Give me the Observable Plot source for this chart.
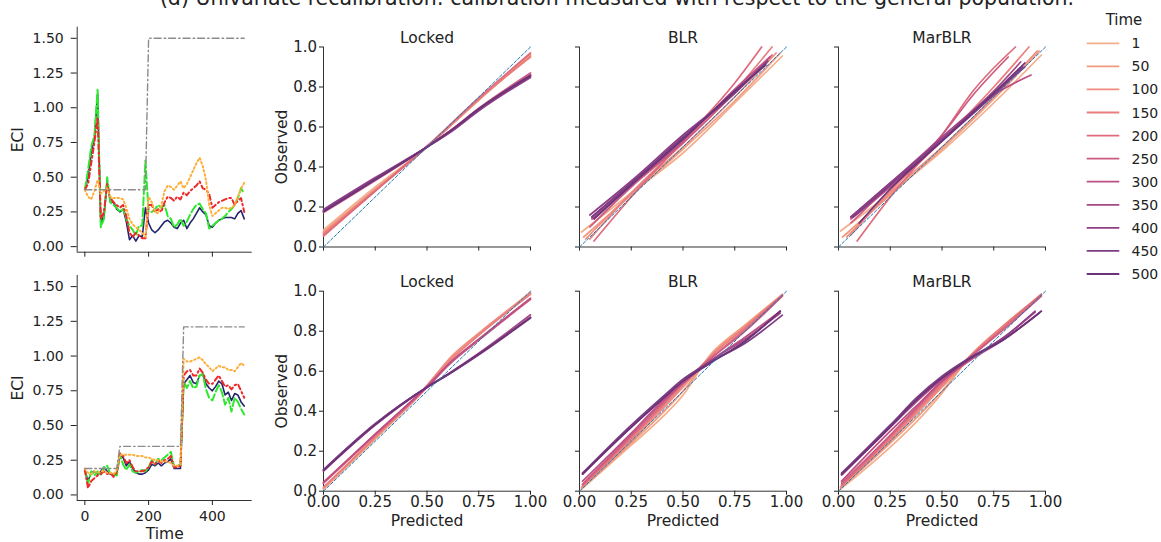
<!DOCTYPE html>
<html><head><meta charset="utf-8">
<script src="https://cdn.jsdelivr.net/npm/d3@7"></script>
<script src="https://cdn.jsdelivr.net/npm/@observablehq/plot@0.6"></script>
<style>
html,body{margin:0;padding:0;background:#fff;}
#root{position:relative;width:1161px;height:542px;overflow:hidden;font-family:"DejaVu Sans",sans-serif;color:#222;}
.p{position:absolute;}
.p svg{max-width:none;}
</style></head><body><div id="root"></div>
<script>
// ---------- data: ECI time series ----------
const times = [0,10,20,30,40,50,60,70,80,90,100,110,120,130,140,150,160,170,180,190,200,210,220,230,240,250,260,270,280,290,300,310,320,330,340,350,360,370,380,390,400,410,420,430,440,450,460,470,480,490,500];

const topNavy   = [0.41,0.50,0.68,0.78,1.10,0.17,0.22,0.47,0.32,0.32,0.27,0.25,0.27,0.18,0.05,0.08,0.04,0.08,0.07,0.28,0.17,0.12,0.10,0.12,0.15,0.18,0.19,0.17,0.14,0.13,0.17,0.19,0.13,0.17,0.20,0.24,0.28,0.25,0.23,0.15,0.14,0.17,0.19,0.20,0.21,0.21,0.21,0.20,0.24,0.26,0.20];
const topGreen  = [0.41,0.55,0.72,0.80,1.13,0.14,0.20,0.50,0.32,0.30,0.28,0.25,0.27,0.20,0.15,0.12,0.08,0.15,0.15,0.62,0.25,0.25,0.27,0.30,0.28,0.30,0.22,0.20,0.14,0.16,0.20,0.15,0.18,0.23,0.27,0.30,0.31,0.27,0.24,0.13,0.15,0.17,0.19,0.20,0.22,0.25,0.27,0.30,0.35,0.42,0.38];
const topRed    = [0.41,0.45,0.60,0.75,0.93,0.20,0.25,0.45,0.35,0.32,0.30,0.28,0.30,0.22,0.10,0.07,0.10,0.08,0.06,0.06,0.30,0.30,0.25,0.27,0.25,0.32,0.36,0.35,0.33,0.36,0.34,0.39,0.37,0.40,0.42,0.44,0.47,0.42,0.41,0.38,0.28,0.30,0.32,0.33,0.34,0.35,0.35,0.30,0.33,0.35,0.25];
const topOrange = [0.41,0.36,0.34,0.40,0.48,0.38,0.40,0.42,0.36,0.35,0.35,0.35,0.34,0.28,0.20,0.16,0.14,0.12,0.10,0.07,0.36,0.32,0.25,0.24,0.30,0.40,0.44,0.43,0.41,0.44,0.47,0.42,0.45,0.50,0.55,0.60,0.64,0.58,0.48,0.30,0.22,0.24,0.26,0.28,0.28,0.27,0.28,0.30,0.36,0.42,0.46];
const topGrey   = [0.41,0.41,0.41,0.41,0.41,0.41,0.41,0.41,0.41,0.41,0.41,0.41,0.41,0.41,0.41,0.41,0.41,0.41,0.41,0.41,1.5,1.5,1.5,1.5,1.5,1.5,1.5,1.5,1.5,1.5,1.5,1.5,1.5,1.5,1.5,1.5,1.5,1.5,1.5,1.5,1.5,1.5,1.5,1.5,1.5,1.5,1.5,1.5,1.5,1.5,1.5];

const botNavy   = [0.18,0.10,0.16,0.17,0.15,0.17,0.20,0.17,0.15,0.14,0.15,0.28,0.27,0.21,0.24,0.19,0.16,0.15,0.15,0.16,0.18,0.22,0.21,0.23,0.21,0.23,0.24,0.26,0.19,0.19,0.19,0.80,0.83,0.86,0.81,0.80,0.86,0.87,0.80,0.77,0.75,0.78,0.82,0.80,0.72,0.74,0.68,0.73,0.72,0.67,0.64];
const botRed    = [0.18,0.05,0.10,0.12,0.14,0.15,0.17,0.15,0.16,0.13,0.16,0.30,0.28,0.23,0.25,0.20,0.17,0.17,0.17,0.18,0.20,0.24,0.22,0.25,0.23,0.25,0.26,0.28,0.20,0.20,0.21,0.86,0.89,0.90,0.86,0.86,0.91,0.88,0.83,0.80,0.80,0.83,0.86,0.82,0.78,0.79,0.76,0.79,0.80,0.75,0.70];
const botGreen  = [0.18,0.08,0.17,0.14,0.17,0.14,0.20,0.21,0.15,0.15,0.14,0.29,0.22,0.18,0.22,0.17,0.16,0.17,0.18,0.17,0.20,0.25,0.22,0.26,0.25,0.27,0.29,0.31,0.20,0.21,0.22,0.82,0.77,0.82,0.77,0.78,0.86,0.87,0.76,0.70,0.68,0.74,0.79,0.74,0.65,0.70,0.60,0.70,0.67,0.62,0.58];
const botOrange = [0.19,0.16,0.15,0.17,0.16,0.17,0.17,0.16,0.16,0.15,0.18,0.29,0.29,0.29,0.29,0.29,0.28,0.28,0.28,0.27,0.27,0.26,0.25,0.25,0.24,0.24,0.24,0.23,0.21,0.21,0.22,0.98,0.96,0.96,0.97,0.98,0.99,0.97,0.94,0.92,0.89,0.91,0.93,0.92,0.92,0.90,0.90,0.89,0.92,0.95,0.93];
const botGrey   = [0.19,0.19,0.19,0.19,0.19,0.19,0.19,0.19,0.19,0.19,0.19,0.35,0.35,0.35,0.35,0.35,0.35,0.35,0.35,0.35,0.35,0.35,0.35,0.35,0.35,0.35,0.35,0.35,0.35,0.35,0.35,1.21,1.21,1.21,1.21,1.21,1.21,1.21,1.21,1.21,1.21,1.21,1.21,1.21,1.21,1.21,1.21,1.21,1.21,1.21,1.21];

const eciTicks = [0,0.25,0.5,0.75,1.0,1.25,1.5];
const timeTicks = [0,200,400];

// ---------- data: calibration curves (one per legend time) ----------
const legendTimes = [1,50,100,150,200,250,300,350,400,450,500];
const timeColors = ["#f4ae8c","#f29a7c","#ef8c7f","#e97f7e","#df6a7b","#cc5a82","#bf4e82","#a54885","#8f3e86","#7c3d83","#6b3379"];

const calLockedTop = [
 [[0,0.085],[0.25,0.30],[0.5,0.50],[0.75,0.735],[1,0.96]],
 [[0,0.075],[0.25,0.29],[0.5,0.50],[0.75,0.74],[1,0.965]],
 [[0,0.07],[0.25,0.285],[0.5,0.50],[0.75,0.735],[1,0.955]],
 [[0,0.065],[0.25,0.28],[0.5,0.50],[0.75,0.74],[1,0.95]],
 [[0,0.055],[0.25,0.28],[0.5,0.505],[0.75,0.745],[1,0.97]],
 [[0,0.172],[0.25,0.332],[0.5,0.50],[0.62,0.588],[0.75,0.694],[1,0.87]],
 [[0,0.178],[0.25,0.338],[0.5,0.50],[0.62,0.585],[0.75,0.69],[1,0.862]],
 [[0,0.183],[0.25,0.342],[0.5,0.50],[0.62,0.581],[0.75,0.684],[1,0.852]],
 [[0,0.188],[0.25,0.347],[0.5,0.50],[0.62,0.579],[0.75,0.681],[1,0.848]],
 [[0,0.18],[0.25,0.34],[0.5,0.50],[0.62,0.585],[0.75,0.69],[1,0.858]],
 [[0,0.176],[0.25,0.336],[0.5,0.50],[0.62,0.586],[0.75,0.69],[1,0.856]]
];
const calBlrTop = [
 [[0.01,0.075],[0.25,0.27],[0.5,0.47],[0.75,0.72],[0.98,0.955]],
 [[0.02,0.05],[0.25,0.26],[0.5,0.49],[0.75,0.73],[0.97,0.97]],
 [[0.03,0.04],[0.25,0.27],[0.5,0.50],[0.75,0.75],[0.95,0.97]],
 [[0.05,0.04],[0.25,0.27],[0.5,0.52],[0.75,0.78],[0.93,1.0]],
 [[0.07,0.03],[0.25,0.25],[0.5,0.53],[0.75,0.82],[0.88,1.0]],
 [[0.05,0.10],[0.25,0.30],[0.5,0.52],[0.75,0.77],[0.93,0.96]],
 [[0.06,0.14],[0.25,0.31],[0.5,0.53],[0.75,0.79],[0.92,0.95]],
 [[0.06,0.15],[0.25,0.32],[0.5,0.54],[0.75,0.78],[0.90,0.92]],
 [[0.05,0.16],[0.25,0.33],[0.5,0.56],[0.75,0.77],[0.90,0.92]],
 [[0.06,0.15],[0.25,0.32],[0.5,0.55],[0.75,0.77],[0.91,0.93]],
 [[0.07,0.14],[0.25,0.31],[0.5,0.54],[0.75,0.78],[0.90,0.91]]
];
const calMarTop = [
 [[0.01,0.08],[0.25,0.27],[0.5,0.48],[0.75,0.72],[0.98,0.96]],
 [[0.02,0.05],[0.25,0.26],[0.5,0.49],[0.75,0.74],[0.97,0.98]],
 [[0.04,0.05],[0.25,0.27],[0.5,0.50],[0.75,0.75],[0.96,0.98]],
 [[0.06,0.06],[0.25,0.28],[0.5,0.53],[0.75,0.80],[0.92,1.0]],
 [[0.09,0.03],[0.25,0.25],[0.5,0.56],[0.65,0.78],[0.855,1.0]],
 [[0.06,0.12],[0.25,0.31],[0.5,0.56],[0.65,0.76],[0.82,0.95]],
 [[0.06,0.14],[0.25,0.30],[0.5,0.53],[0.75,0.76],[0.93,0.86]],
 [[0.06,0.15],[0.25,0.32],[0.5,0.55],[0.75,0.78],[0.88,0.925]],
 [[0.06,0.15],[0.25,0.32],[0.5,0.54],[0.75,0.77],[0.90,0.90]],
 [[0.07,0.15],[0.25,0.31],[0.5,0.53],[0.75,0.76],[0.89,0.90]],
 [[0.10,0.12],[0.25,0.29],[0.5,0.53],[0.75,0.77],[0.90,0.92]]
];
const calLockedBot = [
 [[0,0.01],[0.25,0.26],[0.5,0.52],[0.62,0.665],[0.75,0.78],[1,0.99]],
 [[0,0.012],[0.25,0.265],[0.5,0.525],[0.62,0.67],[0.75,0.785],[1,0.995]],
 [[0,0.015],[0.25,0.27],[0.5,0.53],[0.62,0.675],[0.75,0.79],[1,0.99]],
 [[0,0.02],[0.25,0.27],[0.5,0.52],[0.62,0.66],[0.75,0.78],[1,0.985]],
 [[0,0.04],[0.25,0.28],[0.5,0.52],[0.62,0.65],[0.75,0.76],[1,0.96]],
 [[0,0.04],[0.25,0.285],[0.5,0.52],[0.62,0.645],[0.75,0.755],[1,0.96]],
 [[0,0.045],[0.25,0.285],[0.5,0.525],[0.62,0.65],[0.75,0.76],[1,0.965]],
 [[0,0.10],[0.25,0.33],[0.5,0.52],[0.6,0.585],[0.75,0.69],[1,0.882]],
 [[0,0.106],[0.25,0.336],[0.5,0.52],[0.6,0.582],[0.75,0.684],[1,0.87]],
 [[0,0.108],[0.25,0.338],[0.5,0.52],[0.6,0.581],[0.75,0.682],[1,0.866]],
 [[0,0.103],[0.25,0.333],[0.5,0.52],[0.6,0.584],[0.75,0.686],[1,0.868]]
];
const calBlrBot = [
 [[0.01,0.01],[0.25,0.23],[0.4,0.37],[0.5,0.48],[0.63,0.68],[0.8,0.83],[0.98,0.985]],
 [[0.01,0.015],[0.25,0.24],[0.4,0.39],[0.5,0.50],[0.63,0.675],[0.8,0.83],[0.98,0.98]],
 [[0.01,0.02],[0.25,0.25],[0.4,0.41],[0.5,0.52],[0.63,0.67],[0.8,0.82],[0.98,0.98]],
 [[0.015,0.03],[0.25,0.26],[0.4,0.42],[0.5,0.53],[0.63,0.67],[0.8,0.82],[0.98,0.98]],
 [[0.015,0.03],[0.25,0.27],[0.4,0.43],[0.5,0.54],[0.63,0.66],[0.8,0.81],[0.98,0.98]],
 [[0.015,0.035],[0.25,0.28],[0.4,0.44],[0.5,0.54],[0.63,0.66],[0.8,0.80],[0.98,0.975]],
 [[0.015,0.05],[0.25,0.29],[0.4,0.45],[0.5,0.54],[0.63,0.65],[0.8,0.77],[0.97,0.90]],
 [[0.015,0.085],[0.25,0.32],[0.4,0.46],[0.5,0.55],[0.63,0.65],[0.8,0.76],[0.97,0.89]],
 [[0.015,0.09],[0.25,0.32],[0.4,0.46],[0.5,0.55],[0.63,0.64],[0.8,0.75],[0.97,0.90]],
 [[0.015,0.09],[0.25,0.33],[0.4,0.47],[0.5,0.56],[0.63,0.645],[0.8,0.74],[0.98,0.88]],
 [[0.015,0.085],[0.25,0.32],[0.4,0.46],[0.5,0.55],[0.63,0.64],[0.8,0.75],[0.97,0.90]]
];
const calMarBot = [
 [[0.01,0.01],[0.25,0.22],[0.38,0.35],[0.5,0.49],[0.63,0.67],[0.8,0.83],[0.98,0.985]],
 [[0.01,0.015],[0.25,0.24],[0.38,0.37],[0.5,0.50],[0.63,0.665],[0.8,0.83],[0.98,0.98]],
 [[0.01,0.02],[0.25,0.25],[0.38,0.39],[0.5,0.52],[0.63,0.665],[0.8,0.82],[0.98,0.98]],
 [[0.015,0.03],[0.25,0.26],[0.38,0.40],[0.5,0.53],[0.63,0.67],[0.8,0.83],[0.98,0.98]],
 [[0.015,0.03],[0.25,0.27],[0.38,0.41],[0.5,0.54],[0.63,0.665],[0.8,0.82],[0.98,0.985]],
 [[0.015,0.04],[0.25,0.28],[0.38,0.42],[0.5,0.55],[0.63,0.665],[0.8,0.81],[0.98,0.975]],
 [[0.015,0.05],[0.25,0.30],[0.38,0.43],[0.5,0.55],[0.63,0.65],[0.8,0.76],[0.98,0.90]],
 [[0.015,0.08],[0.25,0.32],[0.38,0.45],[0.5,0.56],[0.63,0.66],[0.8,0.77],[0.95,0.895]],
 [[0.015,0.085],[0.25,0.33],[0.38,0.46],[0.5,0.57],[0.63,0.66],[0.8,0.77],[0.95,0.90]],
 [[0.015,0.09],[0.25,0.33],[0.38,0.47],[0.5,0.575],[0.63,0.665],[0.8,0.76],[0.97,0.89]],
 [[0.015,0.085],[0.25,0.32],[0.38,0.46],[0.5,0.565],[0.63,0.66],[0.8,0.76],[0.98,0.90]]
];
const calXTicks = [0,0.25,0.5,0.75,1.0];
const calYTicks = [0,0.2,0.4,0.6,0.8,1.0];

// ---------- layout helpers ----------
const root = document.getElementById("root");
function place(el, left, top) {
  const d = document.createElement("div");
  d.className = "p"; d.style.left = left + "px"; d.style.top = top + "px";
  d.appendChild(el); root.appendChild(d);
}
const AX = "#333";

const seriesStyle = [
  {stroke:"#23236e", width:1.6, dash:null},
  {stroke:"#2ee82e", width:2.0, dash:"8,3"},
  {stroke:"#f0282a", width:2.0, dash:"5,3,1.6,3"},
  {stroke:"#ffae3a", width:2.0, dash:"1.6,2.6"},
  {stroke:"#8c8c8c", width:1.4, dash:"7,3,1.5,3"}
];

function eciPanel(series, top, H, mt, showXLabels) {
  const XD = [-24, 525], YD = [-0.04, 1.58];
  const marks = [
    Plot.ruleX([XD[0]], {stroke: AX, strokeWidth: 1}),
    Plot.ruleY([YD[0]], {stroke: AX, strokeWidth: 1}),
    Plot.axisY({ticks: eciTicks, tickFormat: d3.format(".2f"), tickSize: 6, tickPadding: 7.5, label: null, fontSize: 14}),
    Plot.axisX({ticks: timeTicks, tickFormat: showXLabels ? (d => String(d)) : (() => ""), tickSize: 5, tickPadding: 5.5, label: null, fontSize: 14}),
    Plot.text(["ECI"], {frameAnchor: "left", dx: -58.7, rotate: -90, lineAnchor: "middle", textAnchor: "middle", fontSize: 15.5, fill: "#222"})
  ];
  seriesStyle.forEach((s, k) => {
    const vals = series[k];
    marks.push(Plot.line(times.map((t, i) => ({t, v: vals[i]})), {
      x: "t", y: "v", stroke: s.stroke, strokeWidth: s.width,
      strokeDasharray: s.dash || undefined
    }));
  });
  if (showXLabels) marks.push(Plot.text(["Time"], {frameAnchor: "bottom", dy: 33.5, lineAnchor: "middle", fontSize: 15.5, fill: "#222"}));
  const svg = Plot.plot({
    width: 262, height: H,
    marginLeft: 76.7, marginRight: 10.3, marginTop: mt, marginBottom: H - mt - 225,
    x: {domain: XD, axis: null}, y: {domain: YD, axis: null},
    style: {fontFamily: "DejaVu Sans, sans-serif", color: "#222", background: "transparent", overflow: "visible"},
    marks
  });
  place(svg, 0, top);
}

eciPanel([topNavy, topGreen, topRed, topOrange, topGrey], 0, 262, 26.7, false);
eciPanel([botNavy, botGreen, botRed, botOrange, botGrey], 262, 280, 13, true);

function calPanel(curves, title, frameLeft, row, showY) {
  const rows = curves.flatMap((pts, i) => pts.map(([px, py]) => ({time: legendTimes[i], px, py})));
  const H = row === 0 ? 262 : 280;
  const mt = row === 0 ? 46.5 : 28.7;
  const ML = 62, MR = 22;
  const marks = [
    Plot.ruleX([0], {stroke: AX, strokeWidth: 1}),
    Plot.ruleY([0], {stroke: AX, strokeWidth: 1}),
    Plot.axisY({ticks: calYTicks, tickFormat: showY ? d3.format(".1f") : (() => ""), tickSize: 4, tickPadding: 2.5, label: null, fontSize: 15}),
    Plot.axisX({ticks: calXTicks, tickFormat: row === 1 ? d3.format(".2f") : (() => ""), tickSize: 4, tickPadding: 1.5, label: null, fontSize: 15}),
    Plot.line(rows, {x: "px", y: "py", z: "time", stroke: "time", strokeWidth: 1.7, curve: "monotone-x"}),
    Plot.line([[0,0],[1,1]], {x: d => d[0], y: d => d[1], stroke: "#1f77b4", strokeWidth: 1, strokeDasharray: "3,2"}),
    Plot.text([title], {frameAnchor: "top", dy: -3.8, lineAnchor: "bottom", fontSize: 15.5, fill: "#222"})
  ];
  if (showY) marks.push(Plot.text(["Observed"], {frameAnchor: "left", dx: -41.7, rotate: -90, lineAnchor: "middle", textAnchor: "middle", fontSize: 15.5, fill: "#222"}));
  if (row === 1) marks.push(Plot.text(["Predicted"], {frameAnchor: "bottom", dy: 30, lineAnchor: "middle", fontSize: 15.5, fill: "#222"}));
  const svg = Plot.plot({
    width: ML + 207 + MR, height: H,
    marginLeft: ML, marginRight: MR, marginTop: mt, marginBottom: H - mt - 200,
    x: {domain: [0, 1], axis: null}, y: {domain: [0, 1], axis: null},
    color: {type: "ordinal", domain: legendTimes, range: timeColors},
    style: {fontFamily: "DejaVu Sans, sans-serif", color: "#222", background: "transparent", overflow: "visible"},
    marks
  });
  place(svg, frameLeft - ML, row === 0 ? 0 : 262);
}

calPanel(calLockedTop, "Locked", 322.7, 0, true);
calPanel(calBlrTop, "BLR", 579.3, 0, false);
calPanel(calMarTop, "MarBLR", 837.7, 0, false);
calPanel(calLockedBot, "Locked", 322.7, 1, true);
calPanel(calBlrBot, "BLR", 579.3, 1, false);
calPanel(calMarBot, "MarBLR", 837.7, 1, false);

// ---------- title & legend overlay ----------
const ns = "http://www.w3.org/2000/svg";
const ov = document.createElementNS(ns, "svg");
ov.setAttribute("width", 1161); ov.setAttribute("height", 542);
ov.style.position = "absolute"; ov.style.left = "0"; ov.style.top = "0"; ov.style.pointerEvents = "none";
ov.style.fontFamily = "DejaVu Sans, sans-serif";
function txt(x, y, s, size, anchor, baseline) {
  const t = document.createElementNS(ns, "text");
  t.setAttribute("x", x); t.setAttribute("y", y); t.setAttribute("font-size", size);
  t.setAttribute("text-anchor", anchor); t.setAttribute("fill", "#222");
  if (baseline) t.setAttribute("dominant-baseline", baseline);
  t.textContent = s; ov.appendChild(t);
}
txt(617, 5, "(d) Univariate recalibration: calibration measured with respect to the general population.", 20.5, "middle");
txt(1124, 20, "Time", 15, "middle", "central");
legendTimes.forEach((t, i) => {
  const y = 43.3 + i * 23.07;
  const l = document.createElementNS(ns, "line");
  l.setAttribute("x1", 1086.7); l.setAttribute("x2", 1119.3);
  l.setAttribute("y1", y); l.setAttribute("y2", y);
  l.setAttribute("stroke", timeColors[i]); l.setAttribute("stroke-width", 1.8);
  ov.appendChild(l);
  txt(1131.5, y, String(t), 14, "start", "central");
});
root.appendChild(ov);
</script>
</body></html>
